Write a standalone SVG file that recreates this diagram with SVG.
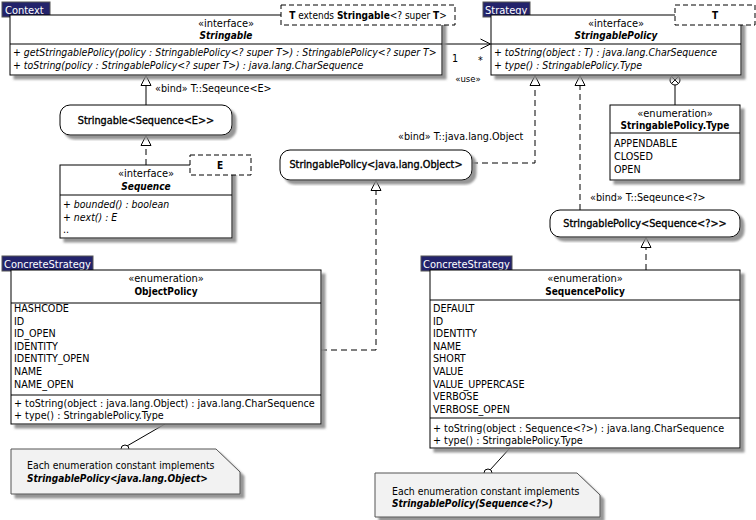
<svg xmlns="http://www.w3.org/2000/svg" width="756" height="520" viewBox="0 0 756 520">
<defs>
<filter id="sh" x="-5%" y="-5%" width="115%" height="125%">
<feDropShadow dx="4" dy="4" stdDeviation="1.2" flood-color="#8a8a8a" flood-opacity="0.9"/>
</filter>
<marker id="tri" markerUnits="userSpaceOnUse" markerWidth="12" markerHeight="12" refX="11" refY="6" orient="auto">
<path d="M1,1 L11,6 L1,11 Z" fill="#fff" stroke="#000" stroke-width="1"/>
</marker>
<marker id="open" markerUnits="userSpaceOnUse" markerWidth="12" markerHeight="12" refX="11" refY="6" orient="auto">
<path d="M1,1 L11,6 L1,11" fill="none" stroke="#000" stroke-width="1"/>
</marker>
</defs>
<style>
text{font-family:"DejaVu Sans Condensed","DejaVu Sans",sans-serif;font-size:10.7px;fill:#000}
.c{text-anchor:middle}
.b{font-weight:bold;font-size:10px}
.r{font-size:10.8px;stroke:#000;stroke-width:0.35}
.i{font-style:italic}
.ia{font-style:italic;font-size:10.45px}
.st{font-size:11px}
.tab{fill:#23236b;stroke:#555;stroke-width:1}
.tabt{fill:#fff;font-size:11px}
.box{fill:#fff;stroke:#000;stroke-width:1;filter:url(#sh)}
.ln{stroke:#000;stroke-width:1;fill:none}
.tpl{fill:#fff;stroke:#000;stroke-width:1;stroke-dasharray:5,3}
.dash{stroke:#000;stroke-width:1;fill:none;stroke-dasharray:6,4}
.note{fill:#f2f2f2;stroke:#555;stroke-width:1;filter:url(#sh)}
.nt{font-size:10.4px}
</style>
<rect width="756" height="520" fill="#fff"/>

<g id="connectors">
<path class="ln" d="M146,105 V75.5" marker-end="url(#tri)"/>
<path class="dash" d="M146,165 V135.5" marker-end="url(#tri)"/>
<path class="ln" d="M442,44 H490.5" marker-end="url(#open)"/>
<text x="452" y="62">1</text>
<text x="478" y="64">*</text>
<text class="c" x="468" y="82" style="font-size:9.5px">«use»</text>
<path class="dash" d="M472,163 H535 V75.5" marker-end="url(#tri)"/>
<text x="398" y="140">«bind» T::java.lang.Object</text>
<path class="dash" d="M580,210 V75.5" marker-end="url(#tri)"/>
<text x="590" y="201">«bind» T::Seqeunce&lt;?&gt;</text>
<path class="ln" d="M675,85 V105"/>
<circle cx="675" cy="80" r="5" fill="#fff" stroke="#000"/>
<path class="ln" d="M671.5,76.5 L678.5,83.5 M678.5,76.5 L671.5,83.5"/>
<path class="dash" d="M321,350 H376 V180.5" marker-end="url(#tri)"/>
<path class="dash" d="M646,270 V237.5" marker-end="url(#tri)"/>
<path class="ln" d="M127,446 L165,424"/>
<circle cx="125" cy="449" r="4" fill="#fff" stroke="#000"/>
<path class="ln" d="M490,470 L510,448"/>
<circle cx="488" cy="473" r="4" fill="#fff" stroke="#000"/>
</g>

<g id="stringable">
<rect class="tab" x="2" y="2" width="48" height="15"/>
<text class="tabt" x="5" y="13.5">Context</text>
<rect class="box" x="10" y="15" width="432" height="60"/>
<line class="ln" x1="10" y1="44" x2="442" y2="44"/>
<text class="c st" x="226" y="27">«interface»</text>
<text class="c b i" x="226" y="39">Stringable</text>
<text class="ia" x="13" y="56">+ getStringablePolicy(policy : StringablePolicy&lt;? super T&gt;) : StringablePolicy&lt;? super T&gt;</text>
<text class="ia" x="13" y="69">+ toString(policy : StringablePolicy&lt;? super T&gt;) : java.lang.CharSequence</text>
<rect class="tpl" x="281" y="5" width="174" height="20"/>
<text class="c" x="368" y="19" style="font-size:10px"><tspan class="b">T</tspan> extends <tspan class="b">Stringable</tspan>&lt;? super <tspan class="b">T</tspan>&gt;</text>
</g>

<g id="stringablepolicy">
<rect class="tab" x="483" y="2" width="47" height="15"/>
<text class="tabt" x="485" y="13.5">Strategy</text>
<rect class="box" x="491" y="15" width="250" height="60"/>
<line class="ln" x1="491" y1="44" x2="741" y2="44"/>
<text class="c st" x="616" y="27">«interface»</text>
<text class="c b i" x="616" y="39">StringablePolicy</text>
<text class="ia" x="494" y="56">+ toString(object : T) : java.lang.CharSequence</text>
<text class="ia" x="494" y="69">+ type() : StringablePolicy.Type</text>
<rect class="tpl" x="675" y="5" width="80" height="20"/>
<text class="c b" x="715" y="19">T</text>
</g>

<g id="type">
<rect class="box" x="610" y="105" width="130" height="75"/>
<line class="ln" x1="610" y1="133" x2="740" y2="133"/>
<text class="c st" x="675" y="117">«enumeration»</text>
<text class="c b" x="675" y="129">StringablePolicy.Type</text>
<text x="614" y="147">APPENDABLE</text>
<text x="614" y="160">CLOSED</text>
<text x="614" y="173">OPEN</text>
</g>

<g id="stringable-sequence">
<rect class="box" x="60" y="105" width="172" height="30" rx="10"/>
<text class="c r" x="146" y="124">Stringable&lt;Sequence&lt;E&gt;&gt;</text>
</g>
<text x="155" y="92">«bind» T::Seqeunce&lt;E&gt;</text>

<g id="sequence">
<rect class="box" x="60" y="165" width="172" height="73"/>
<line class="ln" x1="60" y1="195" x2="232" y2="195"/>
<text class="c st" x="146" y="177">«interface»</text>
<text class="c b i" x="146" y="190">Sequence</text>
<text class="ia" x="63" y="208">+ bounded() : boolean</text>
<text class="ia" x="63" y="221">+ next() : E</text>
<text x="63" y="233">..</text>
<rect class="tpl" x="190" y="155" width="61" height="20"/>
<text class="c b" x="220" y="169">E</text>
</g>

<g id="sp-object">
<rect class="box" x="280" y="150" width="192" height="30" rx="10"/>
<text class="c r" x="376" y="168">StringablePolicy&lt;java.lang.Object&gt;</text>
</g>

<g id="sp-sequence">
<rect class="box" x="550" y="210" width="190" height="27" rx="10"/>
<text class="c r" x="645" y="227">StringablePolicy&lt;Sequence&lt;?&gt;&gt;</text>
</g>

<g id="objectpolicy">
<rect class="tab" x="2" y="256" width="91" height="15"/>
<text class="tabt" x="4" y="267.5">ConcreteStrategy</text>
<rect class="box" x="11" y="270" width="310" height="154"/>
<line class="ln" x1="11" y1="303" x2="321" y2="303"/>
<line class="ln" x1="11" y1="395" x2="321" y2="395"/>
<text class="c st" x="166" y="282">«enumeration»</text>
<text class="c b" x="166" y="295">ObjectPolicy</text>
<text x="14" y="312">HASHCODE</text>
<text x="14" y="325">ID</text>
<text x="14" y="337">ID_OPEN</text>
<text x="14" y="350">IDENTITY</text>
<text x="14" y="362">IDENTITY_OPEN</text>
<text x="14" y="375">NAME</text>
<text x="14" y="388">NAME_OPEN</text>
<text x="14" y="407">+ toString(object : java.lang.Object) : java.lang.CharSequence</text>
<text x="14" y="419">+ type() : StringablePolicy.Type</text>
</g>

<g id="sequencepolicy">
<rect class="tab" x="421" y="256" width="91" height="15"/>
<text class="tabt" x="423" y="267.5">ConcreteStrategy</text>
<rect class="box" x="430" y="270" width="310" height="178"/>
<line class="ln" x1="430" y1="300" x2="740" y2="300"/>
<line class="ln" x1="430" y1="418" x2="740" y2="418"/>
<text class="c st" x="585" y="282">«enumeration»</text>
<text class="c b" x="585" y="295">SequencePolicy</text>
<text x="433" y="312">DEFAULT</text>
<text x="433" y="325">ID</text>
<text x="433" y="337">IDENTITY</text>
<text x="433" y="350">NAME</text>
<text x="433" y="362">SHORT</text>
<text x="433" y="375">VALUE</text>
<text x="433" y="388">VALUE_UPPERCASE</text>
<text x="433" y="400">VERBOSE</text>
<text x="433" y="413">VERBOSE_OPEN</text>
<text x="433" y="432">+ toString(object : Sequence&lt;?&gt;) : java.lang.CharSequence</text>
<text x="433" y="444">+ type() : StringablePolicy.Type</text>
</g>

<g id="note1">
<path class="note" d="M11,449 H216 L240,472 V494 H11 Z"/>
<text class="nt" x="27" y="469">Each enumeration constant implements</text>
<text class="b i" x="27" y="482">StringablePolicy&lt;java.lang.Object&gt;</text>
</g>

<g id="note2">
<path class="note" d="M375,473 H577 L600,495 V517 H375 Z"/>
<text class="nt" x="392" y="495">Each enumeration constant implements</text>
<text class="b i" x="392" y="507">StringablePolicy(Sequence&lt;?&gt;)</text>
</g>
</svg>
